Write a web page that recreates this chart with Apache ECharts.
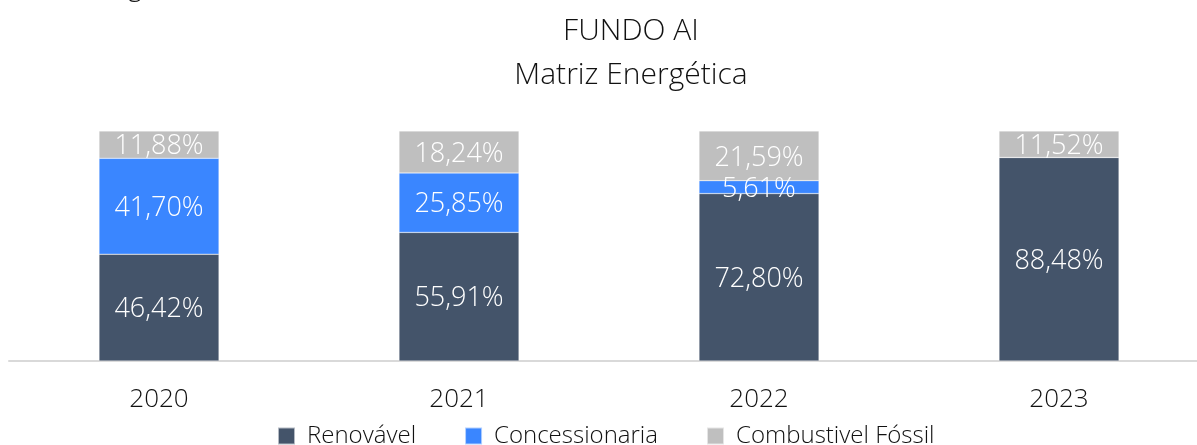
<!DOCTYPE html>
<html>
<head>
<meta charset="utf-8">
<title>FUNDO AI - Matriz Energética</title>
<script src="https://cdn.jsdelivr.net/npm/echarts@6/dist/echarts.min.js"></script>
<style>
  html, body { margin: 0; padding: 0; background: #fff; }
  #chart { width: 1197px; height: 445px; }
</style>
</head>
<body>
<div id="chart"></div>
<script>
// dados
const anos = ['2020', '2021', '2022', '2023']
const renovavel = [46.42, 55.91, 72.80, 88.48]
const concessionaria = [41.70, 25.85, 5.61, 0]
const combustivel = [11.88, 18.24, 21.59, 11.52]

const fonte = '"Open Sans", "Noto Sans", sans-serif'

// rótulo em formato brasileiro, esconde zeros
const rotulo = (p) => p.value ? p.value.toFixed(2).replace('.', ',') + '%' : ''

const serie = (nome, dados, cor) => ({
  name: nome,
  type: 'bar',
  stack: 'total',
  barWidth: 120,
  data: dados,
  itemStyle: { color: cor, borderColor: 'rgba(255,255,255,0.6)', borderWidth: 0.5 },
  label: {
    show: true,
    position: 'inside',
    offset: [0, 2],
    formatter: rotulo,
    color: '#fff',
    fontFamily: fonte,
    fontWeight: 300,
    fontSize: 27
  }
})

const chart = echarts.init(document.getElementById('chart'))

chart.setOption({
  backgroundColor: '#fff',
  animation: false,
  title: {
    text: 'FUNDO AI\nMatriz Energética',
    left: 626,
    textAlign: 'center',
    top: 4,
    textStyle: {
      fontFamily: fonte,
      fontWeight: 300,
      fontSize: 30,
      lineHeight: 44,
      color: '#111'
    }
  },
  graphic: [{
    // descendente cortado de um texto acima
    type: 'text',
    left: 128,
    top: -26,
    style: { text: 'g', font: '300 27px "Open Sans"', fill: '#111' }
  }],
  legend: {
    left: 277,
    top: 424,
    padding: 0,
    itemWidth: 17,
    itemHeight: 17,
    itemGap: 48,
    icon: 'rect',
    textStyle: {
      fontFamily: fonte,
      fontWeight: 300,
      fontSize: 24,
      color: '#111',
      padding: [0, 0, 0, 7]
    }
  },
  grid: {
    left: 9,
    top: 131,
    width: 1200,
    height: 230,
    outerBoundsMode: 'none'
  },
  xAxis: {
    type: 'category',
    data: anos,
    axisTick: { show: false },
    axisLine: { lineStyle: { color: '#d9d9d9', width: 2 } },
    axisLabel: {
      color: '#111',
      fontFamily: fonte,
      fontWeight: 300,
      fontSize: 26,
      margin: 26
    }
  },
  yAxis: {
    type: 'value',
    min: 0,
    max: 100,
    show: false,
    splitLine: { show: false }
  },
  series: [
    serie('Renovável', renovavel, '#44546a'),
    serie('Concessionaria', concessionaria, '#3a86ff'),
    serie('Combustivel Fóssil', combustivel, '#bfbfbf')
  ]
})

window.addEventListener('resize', () => chart.resize())
</script>
</body>
</html>
